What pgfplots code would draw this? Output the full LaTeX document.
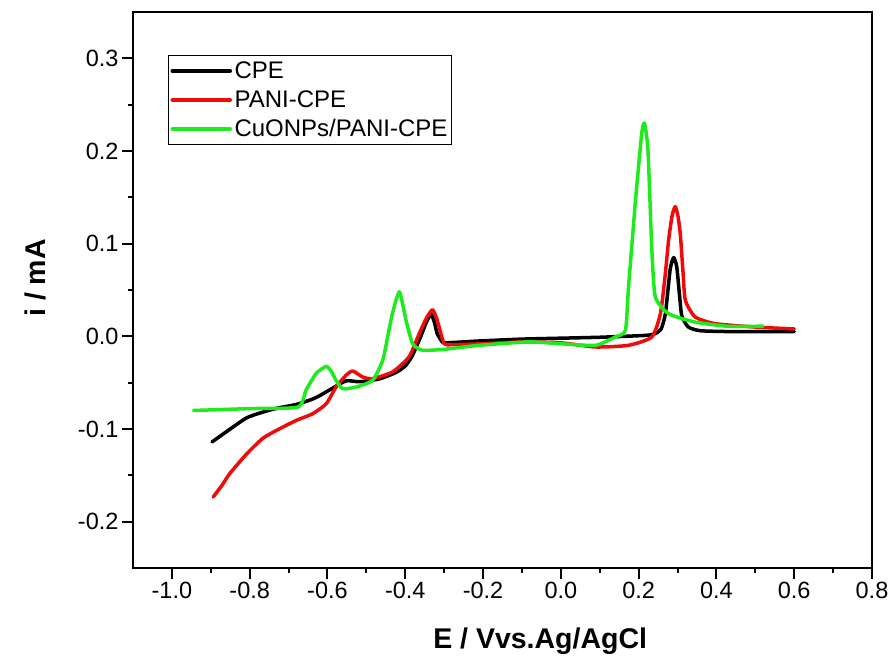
\documentclass[border=0pt]{standalone}
\usepackage{pgfplots}
\pgfplotsset{compat=1.18}
\usepackage{fontspec}
\setmainfont{Liberation Sans}
\definecolor{cvgreen}{RGB}{30,235,30}
\definecolor{cvred}{RGB}{240,10,10}
\begin{document}
\begin{tikzpicture}
\begin{axis}[
  scale only axis, width=739pt, height=556pt,
  xmin=-1.1, xmax=0.8, ymin=-0.25, ymax=0.35,
  xtick={-1.0,-0.8,...,0.81}, ytick={-0.2,-0.1,0,0.1,0.2,0.3},
  minor x tick num=1, minor y tick num=1,
  xtick pos=bottom, ytick pos=left,
  tick align=outside, major tick length=11pt, minor tick length=5pt,
  axis line style={line width=2pt},
  every tick/.style={line width=2pt, black},
  /pgf/number format/assume math mode=true,
  /pgf/number format/.cd, fixed, fixed zerofill, precision=1, /pgfplots/.cd,
  ticklabel style={font=\fontsize{23.5}{28}\selectfont},
  xlabel={\bfseries E / Vvs.Ag/AgCl},
  ylabel={\bfseries i / mA},
  label style={font=\fontsize{28.5}{34}\selectfont},
  xlabel style={at={(axis description cs:0.551,-0.144)}, anchor=base},
  ylabel style={at={(axis description cs:-0.119,0.5216)}, anchor=base},
  legend style={at={(rel axis cs:0.0474,0.9227)}, anchor=north west,
    draw=black, line width=1pt, inner xsep=2pt, inner ysep=1pt,
    font=\fontsize{24}{28}\selectfont, row sep=0pt,
    nodes={inner xsep=2.5pt, inner ysep=3.5pt, text height=19pt, text depth=3pt}},
  legend cell align=left,
  legend image code/.code={\draw[#1] (0pt,0pt) -- (58pt,0pt);},
  every axis plot/.append style={line width=3.5pt, line join=round, line cap=round, smooth, tension=0.35},
]
\addplot[black] coordinates {
(-0.897,-0.114)(-0.86,-0.103)(-0.808,-0.088)(-0.76,-0.081)(-0.723,-0.077)
(-0.68,-0.0735)(-0.64,-0.068)(-0.62,-0.064)(-0.587,-0.056)(-0.552,-0.048)
(-0.518,-0.049)(-0.467,-0.046)(-0.424,-0.039)(-0.40,-0.032)(-0.382,-0.021)
(-0.36,0.000)(-0.347,0.014)(-0.334,0.024)(-0.325,0.015)(-0.318,0.003)
(-0.305,-0.006)(-0.296,-0.007)(-0.25,-0.006)(-0.21,-0.005)(-0.1,-0.003)
(0.0,-0.002)(0.1,-0.001)(0.217,0.001)(0.243,0.003)(0.258,0.008)
(0.269,0.025)(0.281,0.072)(0.290,0.085)(0.298,0.075)(0.305,0.045)
(0.311,0.022)(0.328,0.010)(0.36,0.006)(0.45,0.005)(0.533,0.005)(0.6,0.005)
};
\addlegendentry{CPE}
\addplot[cvred] coordinates {
(-0.894,-0.1735)(-0.87,-0.160)(-0.851,-0.148)(-0.808,-0.127)(-0.766,-0.110)
(-0.723,-0.0997)(-0.680,-0.0907)(-0.638,-0.0835)(-0.603,-0.0727)(-0.578,-0.0547)
(-0.552,-0.042)(-0.535,-0.0374)(-0.509,-0.044)(-0.484,-0.0457)(-0.433,-0.0385)
(-0.390,-0.022)(-0.364,0.003)(-0.345,0.020)(-0.330,0.0288)(-0.320,0.020)
(-0.313,0.010)(-0.300,-0.008)(-0.28,-0.009)(-0.2,-0.008)(-0.1,-0.006)
(0.0,-0.007)(0.089,-0.0115)(0.174,-0.0097)(0.234,-0.0007)(0.256,0.0245)
(0.268,0.065)(0.277,0.1037)(0.286,0.130)(0.294,0.140)(0.301,0.130)
(0.307,0.111)(0.314,0.070)(0.320,0.039)(0.345,0.021)(0.396,0.0137)
(0.5,0.010)(0.6,0.008)
};
\addlegendentry{PANI-CPE}
\addplot[cvgreen] coordinates {
(-0.944,-0.080)(-0.8,-0.078)(-0.676,-0.0763)(-0.655,-0.058)(-0.629,-0.040)
(-0.603,-0.0324)(-0.590,-0.038)(-0.578,-0.0475)(-0.561,-0.0565)(-0.526,-0.0547)
(-0.484,-0.0475)(-0.458,-0.026)(-0.445,0.000)(-0.433,0.0245)(-0.415,0.048)
(-0.398,0.0173)(-0.381,-0.008)(-0.356,-0.015)(-0.3,-0.014)(-0.21,-0.0097)
(-0.082,-0.006)(0.0,-0.008)(0.089,-0.0097)(0.140,-0.0007)(0.166,0.0065)
(0.174,0.053)(0.192,0.147)(0.208,0.219)(0.215,0.230)(0.224,0.201)
(0.234,0.093)(0.243,0.0424)(0.277,0.0245)(0.345,0.0154)(0.431,0.0108)(0.52,0.011)
};
\addlegendentry{CuONPs/PANI-CPE}
\end{axis}
\path (-133pt,-90pt) rectangle (760pt,568pt);
\end{tikzpicture}
\end{document}
